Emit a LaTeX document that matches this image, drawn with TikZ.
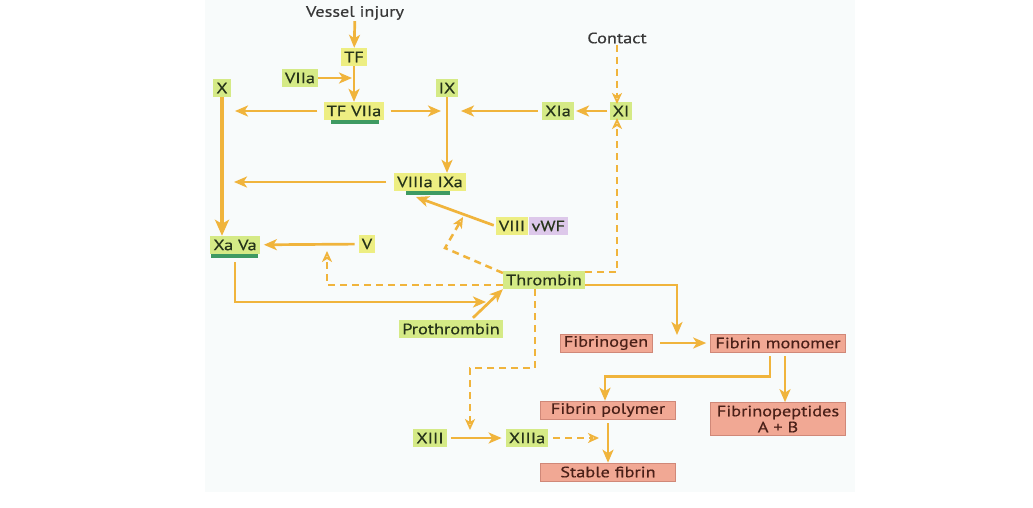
\documentclass[tikz,border=0pt]{standalone}
\usepackage{fontspec}
\setmainfont{PT Sans}[FakeStretch=1.22,FakeBold=0.4]
\usetikzlibrary{arrows.meta,positioning}

\definecolor{flow}{HTML}{F0B43C}
\definecolor{boxg}{HTML}{D5EA86}
\definecolor{boxy}{HTML}{EDEE82}
\definecolor{boxv}{HTML}{DDC8EA}
\definecolor{boxs}{HTML}{F1A894}
\definecolor{edges}{HTML}{D08878}
\definecolor{txtg}{HTML}{26331A}
\definecolor{txts}{HTML}{4A2018}
\definecolor{uline}{HTML}{3E9A62}
\definecolor{paper}{HTML}{F8FBFB}

\begin{document}
\begin{tikzpicture}[x=1pt,y=-1pt,
  lbl/.style={font=\fontsize{15}{17}\selectfont, text=black!78, inner sep=1pt},
  gbox/.style={fill=boxg, text=txtg, inner xsep=3pt, inner ysep=0pt,
               minimum height=18pt, font=\fontsize{15}{17}\selectfont},
  ybox/.style={gbox, fill=boxy},
  vbox/.style={gbox, fill=boxv},
  sbox/.style={fill=boxs, draw=edges, line width=0.6pt, text=txts,
               inner xsep=4pt, inner ysep=0pt, minimum height=18pt,
               align=center, font=\fontsize{15}{17}\selectfont},
  arr/.style={draw=flow, line width=2.7pt, -{Stealth[length=13pt,width=11pt,inset=3.5pt]}},
  darr/.style={draw=flow, line width=2.5pt, dash pattern=on 7pt off 5pt,
               -{Stealth[open,length=11pt,width=10pt,inset=3pt,line width=1.8pt]}},
  cplx/.style={draw=uline, line width=3.5pt}
]
  \useasboundingbox (0,0) rectangle (1033,507);
  \fill[paper] (205,0) rectangle (855,492);

  % extrinsic start
  \node[lbl]  (vi)     at (355,13)  {Vessel injury};
  \node[ybox] (tf)     at (354,57)  {TF};
  \node[gbox] (viia)   at (300,78)  {VIIa};
  \node[ybox] (tfviia) at (354,111) {TF VIIa};
  \node[gbox] (x)      at (222,88)  {X};
  \node[gbox] (ix)     at (447,88)  {IX};
  \node[gbox] (xia)    at (558,111) {XIa};
  \node[gbox] (xi)     at (621,111) {XI};
  \node[lbl]  (contact) at (617,38) {Contact};

  % tenase / prothrombinase
  \node[ybox] (viiiaixa) at (430,182) {VIIIa IXa};
  \node[ybox] (viii)   at (512,226) {VIII};
  \node[vbox, right=0pt of viii] (vwf) {vWF};
  \node[gbox] (xava)   at (235,245) {Xa Va};
  \node[ybox] (v)      at (367,244) {V};
  \node[gbox] (thr)    at (544,280) {Thrombin};
  \node[gbox] (pro)    at (451,329) {Prothrombin};

  % fibrin
  \node[sbox] (fgen)  at (606,343) {Fibrinogen};
  \node[sbox, minimum width=135pt] (fmon) at (778,343) {Fibrin monomer};
  \node[sbox, minimum width=135pt] (fpol) at (608,410) {Fibrin polymer};
  \node[sbox, minimum width=135pt, minimum height=33pt] (fpep) at (778,419)
       {Fibrinopeptides\\[-1pt]A + B};
  \node[sbox, minimum width=135pt] (sfib) at (608,472) {Stable fibrin};
  \node[gbox] (xiii)  at (430,438) {XIII};
  \node[gbox] (xiiia) at (527,438) {XIIIa};

  % free ends of arrows
  \coordinate (viiitip) at (416,197);
  \coordinate (vtip)    at (327,251);
  \coordinate (viiidash) at (463,217);
  \coordinate (xibot)   at (617,118);
  \coordinate (xitop)   at (617,104);
  \coordinate (thrin)   at (486,302);
  \coordinate (fibtop)  at (677,335);
  \coordinate (xiiitip) at (470,430);
  \coordinate (sfibtip) at (599,438);

  % complex underlines
  \draw[cplx] ([xshift=8pt,yshift=-2pt]tfviia.south west) -- ([xshift=-6pt,yshift=-2pt]tfviia.south east);
  \draw[cplx] ([xshift=12pt,yshift=-2pt]viiiaixa.south west) -- ([xshift=-16pt,yshift=-2pt]viiiaixa.south east);
  \draw[cplx] ([xshift=1pt,yshift=-2pt]xava.south west) -- ([xshift=-2pt,yshift=-2pt]xava.south east);

  % solid arrows
  \draw[arr] (vi) -- (tf);
  \draw[arr] (tf) -- (tfviia);
  \draw[arr, shorten >=2pt] (viia) -- (viia -| tf);
  \draw[arr, shorten <=6pt, shorten >=13pt] (tfviia) -- (tfviia -| x);
  \draw[arr, shorten <=6pt, shorten >=6pt] (tfviia) -- (tfviia -| ix);
  \draw[arr, shorten <=4pt, shorten >=14pt] (xia) -- (xia -| ix);
  \draw[arr, shorten <=2pt, shorten >=2pt] (xi) -- (xia);
  \draw[arr, line width=3.4pt, -{Stealth[length=16pt,width=14pt,inset=4pt]}]
       (x) -- (x |- xava.north);
  \draw[arr] (ix) -- (ix |- viiiaixa.north);
  \draw[arr, shorten <=8pt, shorten >=12pt] (viiiaixa) -- (viiiaixa -| x);
  \draw[arr, shorten <=2pt] (viii.west) -- (viiitip);
  \draw[arr, shorten <=4pt, shorten >=4pt] (v) -- (xava);
  \draw[arr] ([yshift=-8pt]xava.south) |- (thrin);
  \draw[arr] ([xshift=22pt,yshift=2pt]pro.north) -- (thr.south west);
  \draw[arr] ([yshift=-5pt]thr.east) -| (fibtop);
  \draw[arr, shorten <=8pt, shorten >=4pt] (fgen) -- (fmon);
  \draw[arr] ([xshift=-8pt,yshift=-4pt]fmon.south) -- ++(0,20) -| ([xshift=-3pt]fpol.north);
  \draw[arr] ([xshift=7pt,yshift=-4pt]fmon.south) -- ([xshift=7pt]fpep.north);
  \draw[arr] ([yshift=-4pt]fpol.south) -- (sfib.north);
  \draw[arr, shorten <=4pt, shorten >=4pt] (xiii) -- (xiiia);

  % thrombin feedback (dashed)
  \draw[darr] (contact) -- (xitop);
  \draw[darr] ([yshift=8pt]thr.east) -| (xibot);
  \draw[darr] ([yshift=-5pt]thr.west) -| (vtip);
  \draw[darr] ([yshift=7pt]thr.west) -- (445,248) -- (viiidash);
  \draw[darr] ([xshift=-9pt]thr.south) -- ++(0,79) -| (xiiitip);
  \draw[darr, shorten <=5pt] (xiiia) -- (sfibtip);
\end{tikzpicture}
\end{document}
